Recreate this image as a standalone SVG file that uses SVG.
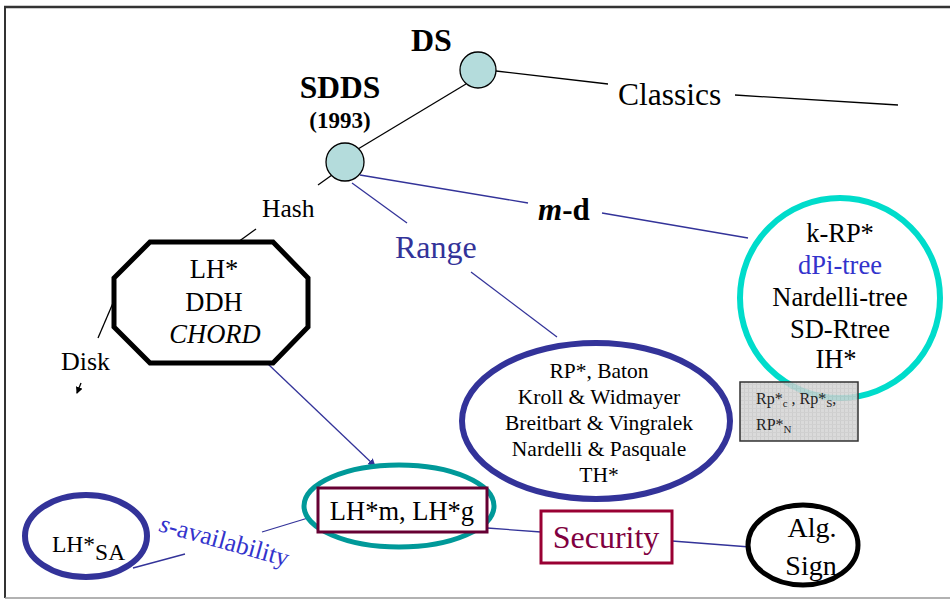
<svg xmlns="http://www.w3.org/2000/svg" width="950" height="602" viewBox="0 0 950 602" font-family="Liberation Serif, Times New Roman, serif">
  <style>
    .b { font-weight: bold; }
    .c { text-anchor: middle; }
    .blk { stroke: #000; stroke-width: 1.3; fill: none; }
    .blu { stroke: #333399; stroke-width: 1.3; fill: none; }
  </style>
  <defs>
    <marker id="ahBlue" markerWidth="8" markerHeight="8" refX="7" refY="4" orient="auto" markerUnits="userSpaceOnUse">
      <path d="M0,0 L8,4 L0,8 Z" fill="#333399"/>
    </marker>
    <marker id="ahBlack" markerWidth="7" markerHeight="7" refX="6" refY="3.5" orient="auto" markerUnits="userSpaceOnUse">
      <path d="M0,0 L7,3.5 L0,7 Z" fill="#000"/>
    </marker>
    <pattern id="grain" width="4" height="4" patternUnits="userSpaceOnUse">
      <rect width="4" height="4" fill="#d4d4d4"/>
      <rect width="1" height="4" fill="#c4c4c4"/>
      <rect width="4" height="1" fill="#c8c8c8"/>
    </pattern>
  </defs>

  <rect width="950" height="602" fill="#fff"/>
  <!-- page frame -->
  <g id="frame">
    <line x1="4" y1="7" x2="950" y2="7" stroke="#333" stroke-width="2.5"/>
    <line x1="5" y1="7" x2="5" y2="598" stroke="#333" stroke-width="2"/>
    <line x1="5" y1="598" x2="950" y2="598" stroke="#999" stroke-width="1.5"/>
  </g>

  <!-- connectors -->
  <g id="connectors">
    <line class="blk" x1="466" y1="84" x2="358" y2="149"/>
    <line class="blk" x1="496" y1="71" x2="608" y2="84"/>
    <line class="blk" x1="735" y1="95" x2="898" y2="105"/>
    <line class="blk" x1="332" y1="175" x2="318" y2="185"/>
    <line class="blk" x1="256" y1="229" x2="238" y2="242"/>
    <line class="blk" x1="113" y1="303" x2="98" y2="338"/>
    <line class="blk" x1="81" y1="383" x2="77" y2="393" marker-end="url(#ahBlack)"/>
    <line class="blu" x1="360" y1="175" x2="528" y2="203"/>
    <line class="blu" x1="602" y1="213" x2="748" y2="238"/>
    <line class="blu" x1="352" y1="183" x2="407" y2="223"/>
    <line class="blu" x1="471" y1="272" x2="557" y2="337"/>
    <line class="blu" x1="268" y1="364" x2="375" y2="466" marker-end="url(#ahBlue)"/>
    <line class="blu" x1="487" y1="528" x2="541" y2="532"/>
    <line class="blu" x1="672" y1="541" x2="750" y2="547"/>
    <line class="blu" x1="133" y1="568" x2="185" y2="554"/>
    <line class="blu" x1="262" y1="532" x2="308" y2="518"/>
  </g>

  <g id="ds">
    <circle cx="478" cy="70" r="18" fill="#b4dcdc" stroke="#000" stroke-width="1.3"/>
    <text class="b" x="411" y="51" font-size="32">DS</text>
  </g>

  <g id="classics">
    <text x="618" y="105" font-size="31.5">Classics</text>
  </g>

  <g id="sdds">
    <circle cx="345" cy="162" r="19" fill="#b4dcdc" stroke="#000" stroke-width="1.3"/>
    <text class="b c" x="340" y="98" font-size="31.5">SDDS</text>
    <text class="b c" x="340" y="128" font-size="23">(1993)</text>
  </g>

  <g id="hash">
    <text x="262" y="217" font-size="25.5">Hash</text>
  </g>

  <g id="hash-methods">
    <polygon points="150,242 273,242 308,278 308,327 273,363 150,363 114,327 114,278" fill="#fff" stroke="#000" stroke-width="5"/>
    <text class="c" x="214" y="278" font-size="26.5">LH*</text>
    <text class="c" x="214" y="311" font-size="26.5">DDH</text>
    <text class="c" x="215" y="343" font-size="26.5" font-style="italic">CHORD</text>
  </g>

  <g id="disk">
    <text x="61" y="370" font-size="26">Disk</text>
  </g>

  <g id="range">
    <text x="395" y="258" font-size="32" fill="#333399">Range</text>
  </g>

  <g id="md">
    <text class="b" x="538" y="220" font-size="31"><tspan font-style="italic">m</tspan>-d</text>
  </g>

  <g id="range-methods">
    <ellipse cx="596" cy="421" rx="134" ry="78" fill="#fff" stroke="#333399" stroke-width="6"/>
    <text class="c" x="599" y="378" font-size="21.5">RP*, Baton</text>
    <text class="c" x="599" y="404" font-size="21.5">Kroll &amp; Widmayer</text>
    <text class="c" x="599" y="430" font-size="21.5">Breitbart &amp; Vingralek</text>
    <text class="c" x="599" y="456" font-size="21.5">Nardelli &amp; Pasquale</text>
    <text class="c" x="599" y="482" font-size="21.5">TH*</text>
  </g>

  <g id="md-methods">
    <ellipse cx="840" cy="298" rx="100" ry="100" fill="#fff" stroke="#00dccb" stroke-width="6"/>
    <text class="c" x="840" y="242" font-size="26.5">k-RP*</text>
    <text class="c" x="840" y="274" font-size="26.5" fill="#3333cc">dPi-tree</text>
    <text class="c" x="840" y="306" font-size="26.5">Nardelli-tree</text>
    <text class="c" x="840" y="338" font-size="26.5">SD-Rtree</text>
    <text class="c" x="836" y="368" font-size="26.5">IH*</text>
  </g>

  <g id="rp-variants">
    <rect x="740" y="382" width="118" height="59" fill="url(#grain)" fill-opacity="0.85" stroke="#333" stroke-width="1.5"/>
    <text x="756" y="404" font-size="16" fill="#222">Rp*<tspan font-size="11" dy="3">c</tspan><tspan dy="-3"> ,  Rp*</tspan><tspan font-size="11" dy="3">S</tspan><tspan dy="-3">,</tspan></text>
    <text x="756" y="430" font-size="16" fill="#222">RP*<tspan font-size="11" dy="3">N</tspan></text>
  </g>

  <g id="lhm">
    <ellipse cx="399" cy="506" rx="95" ry="41" fill="#fff" stroke="#009999" stroke-width="5"/>
    <rect x="318" y="488" width="169" height="44" fill="#fff" stroke="#660033" stroke-width="3"/>
    <text class="c" x="402" y="520" font-size="26.5">LH*m, LH*g</text>
  </g>

  <g id="security">
    <rect x="541" y="511" width="131" height="52" fill="#fff" stroke="#990033" stroke-width="3"/>
    <text class="c" x="606" y="548" font-size="32" fill="#800040">Security</text>
  </g>

  <g id="alg-sign">
    <ellipse cx="803" cy="545" rx="55" ry="40" fill="#fff" stroke="#000" stroke-width="5"/>
    <text class="c" x="812" y="537" font-size="28">Alg.</text>
    <text class="c" x="811" y="575" font-size="28">Sign</text>
  </g>

  <g id="lhsa">
    <ellipse cx="86" cy="536" rx="61" ry="41" fill="#fff" stroke="#333399" stroke-width="6"/>
    <text x="52" y="552" font-size="23.5">LH*<tspan dy="8">SA</tspan></text>
  </g>

  <g id="s-availability">
    <text x="158" y="531" font-size="25.5" transform="rotate(15.5 158 531)" fill="#3333cc"><tspan font-style="italic">s</tspan>-availability</text>
  </g>
</svg>
